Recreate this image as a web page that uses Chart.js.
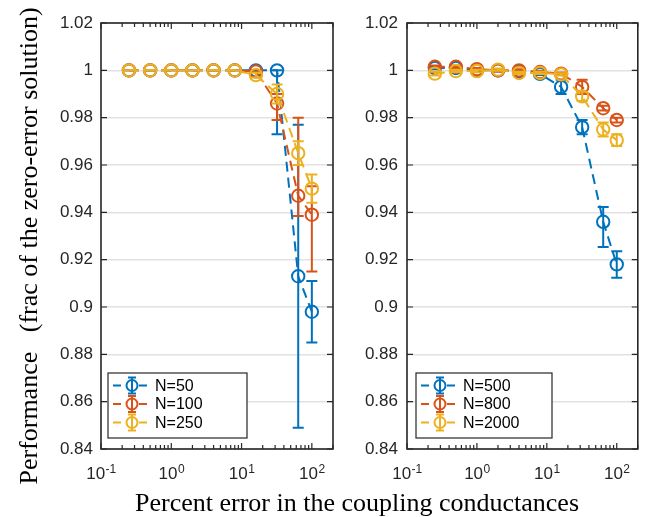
<!DOCTYPE html>
<html><head><meta charset="utf-8">
<script src="https://cdn.jsdelivr.net/npm/chart.js@4.4.1/dist/chart.umd.min.js"></script>
<style>
html,body{margin:0;padding:0;background:#fff;}
#wrap{position:relative;width:646px;height:517px;overflow:hidden;background:#fff;}
#c1{position:absolute;left:0;top:0;width:345px;height:517px;}
#c2{position:absolute;left:345px;top:0;width:301px;height:517px;}
.t{position:absolute;font-family:"Liberation Serif","Times New Roman",serif;font-size:26px;line-height:26px;color:#000;white-space:pre;text-align:center;}
</style></head>
<body><div id="wrap">
<canvas id="c1" width="345" height="517"></canvas>
<canvas id="c2" width="301" height="517"></canvas>
<div class="t" id="xt" style="left:57px;top:490px;width:600px;">Percent error in the coupling conductances</div>
<div class="t" id="yt" style="left:-221px;top:233px;width:500px;height:26px;transform:rotate(-90deg);">Performance   (frac of the zero-error solution)</div>
</div>
<script>
// ---------- data ----------
const xValues = [0.25, 0.5, 1, 2, 4, 8, 16, 32, 64, 100];
const yTicks = [0.84, 0.86, 0.88, 0.90, 0.92, 0.94, 0.96, 0.98, 1.00, 1.02];
const xTicks = [0.1, 1, 10, 100];
const xTickExp = ['-1', '0', '1', '2'];

const leftLabels = ['N=50', 'N=100', 'N=250'];
const n50   = [1, 1, 1, 1, 1, 1, 1, 1.000, 0.913, 0.898];
const n50Lo = [0, 0, 0, 0, 0, 0, 0, 0.027, 0.064, 0.013];
const n50Hi = [0, 0, 0, 0, 0, 0, 0, 0.000, 0.064, 0.013];
const n100   = [1, 1, 1, 1, 1, 1, 0.9995, 0.986, 0.947, 0.939];
const n100Lo = [0, 0, 0, 0, 0, 0, 0, 0.007, 0.0085, 0.024];
const n100Hi = [0, 0, 0, 0, 0, 0, 0, 0.004, 0.033, 0.012];
const n250   = [1, 1, 1, 1, 1, 1, 0.998, 0.990, 0.965, 0.950];
const n250Lo = [0, 0, 0, 0, 0, 0, 0.001, 0.004, 0.005, 0.006];
const n250Hi = [0, 0, 0, 0, 0, 0, 0.001, 0.004, 0.005, 0.006];

const rightLabels = ['N=500', 'N=800', 'N=2000'];
const n500   = [1.001, 1.001, 1.000, 1.000, 0.9995, 0.9985, 0.993, 0.976, 0.936, 0.918];
const n500Lo = [0.0005, 0.0005, 0.0005, 0.0005, 0.0005, 0.0005, 0.003, 0.003, 0.0107, 0.0056];
const n500Hi = [0.0005, 0.0005, 0.0005, 0.0005, 0.0005, 0.0005, 0.003, 0.003, 0.0063, 0.0056];
const n800   = [1.0015, 1.0015, 1.0005, 1.000, 1.000, 0.9993, 0.9986, 0.993, 0.984, 0.979];
const n800Lo = [0.0005, 0.0005, 0.0005, 0.0005, 0.0005, 0.0005, 0.0005, 0.003, 0.001, 0.001];
const n800Hi = [0.0005, 0.0005, 0.0005, 0.0005, 0.0005, 0.0005, 0.0005, 0.003, 0.001, 0.001];
const n2000   = [0.9986, 0.9997, 0.9997, 1.0003, 0.9989, 0.9989, 0.9983, 0.989, 0.975, 0.9705];
const n2000Lo = [0.0008, 0.0005, 0.0005, 0.0005, 0.0005, 0.0005, 0.0005, 0.002, 0.003, 0.0025];
const n2000Hi = [0.0008, 0.0005, 0.0005, 0.0005, 0.0005, 0.0005, 0.0005, 0.002, 0.003, 0.0025];

// ---------- styles ----------
const colors = ['#0072BD', '#D95319', '#EDB120'];
const AX = '#262626';
const SANS = '"Liberation Sans", Arial, Helvetica, sans-serif';

function mkDatasets(labels, series, los, his) {
  return labels.map((lab, k) => ({
    label: lab,
    data: xValues.map((x, i) => ({x: x, y: series[k][i]})),
    errLo: los[k], errHi: his[k],
    borderColor: colors[k],
    backgroundColor: colors[k],
    borderWidth: 2,
    borderDash: [10, 6],
    pointRadius: 6.2,
    pointBorderWidth: 2,
    pointBackgroundColor: 'rgba(0,0,0,0)',
    pointBorderColor: colors[k],
    pointStyle: 'circle',
    tension: 0,
    order: 3 - k
  }));
}

const matlabPlugin = {
  id: 'matlab',
  afterDatasetDraw(chart, args) {
    const ds = chart.data.datasets[args.index];
    const xs = chart.scales.x, ys = chart.scales.y;
    const ctx = chart.ctx, a = chart.chartArea;
    ctx.save();
    ctx.beginPath(); ctx.rect(a.left, a.top, a.right - a.left, a.bottom - a.top); ctx.clip();
    ctx.strokeStyle = ds.borderColor; ctx.lineWidth = 2; ctx.setLineDash([]);
    ds.data.forEach((p, i) => {
      const lo = ds.errLo[i], hi = ds.errHi[i];
      const x = xs.getPixelForValue(p.x);
      const y1 = ys.getPixelForValue(p.y - lo), y2 = ys.getPixelForValue(p.y + hi);
      ctx.beginPath();
      ctx.moveTo(x, y1); ctx.lineTo(x, y2);
      ctx.moveTo(x - 5.5, y1); ctx.lineTo(x + 5.5, y1);
      ctx.moveTo(x - 5.5, y2); ctx.lineTo(x + 5.5, y2);
      ctx.stroke();
    });
    ctx.restore();
  },
  afterDatasetsDraw(chart) {
    const ctx = chart.ctx, a = chart.chartArea;
    const xs = chart.scales.x, ys = chart.scales.y;
    ctx.save();
    ctx.strokeStyle = AX; ctx.lineWidth = 1.6; ctx.setLineDash([]);
    ctx.strokeRect(a.left, a.top, a.right - a.left, a.bottom - a.top);
    ctx.lineWidth = 1.2;
    ctx.beginPath();
    yTicks.forEach(v => {
      const y = ys.getPixelForValue(v);
      ctx.moveTo(a.left, y); ctx.lineTo(a.left + 6, y);
      ctx.moveTo(a.right, y); ctx.lineTo(a.right - 6, y);
    });
    for (let k = -1; k <= 2; k++) {
      for (let m = 1; m <= 9; m++) {
        const v = m * Math.pow(10, k);
        if (v > xs.max * 1.0001) continue;
        const x = xs.getPixelForValue(v);
        const L = m === 1 ? 6 : 4;
        ctx.moveTo(x, a.bottom); ctx.lineTo(x, a.bottom - L);
        ctx.moveTo(x, a.top); ctx.lineTo(x, a.top + L);
      }
    }
    ctx.stroke();
    // x tick labels with superscript exponents
    ctx.fillStyle = AX;
    ctx.textBaseline = 'alphabetic';
    xTicks.forEach((v, i) => {
      const x = xs.getPixelForValue(v);
      ctx.font = '17px ' + SANS;
      const wb = ctx.measureText('10').width;
      ctx.font = '12px ' + SANS;
      const we = ctx.measureText(xTickExp[i]).width;
      const s = x - (wb + we) / 2;
      ctx.font = '17px ' + SANS;
      ctx.textAlign = 'left';
      ctx.fillText('10', s, 479);
      ctx.font = '12px ' + SANS;
      ctx.fillText(xTickExp[i], s + wb + 0.5, 472.5);
    });
    ctx.restore();
  },
  afterDraw(chart) {
    const o = chart.options.plugins.matlab;
    const ctx = chart.ctx;
    ctx.save();
    ctx.fillStyle = '#fff';
    ctx.fillRect(o.lx, o.ly, o.lw, o.lh);
    ctx.strokeStyle = AX; ctx.lineWidth = 1.2;
    ctx.strokeRect(o.lx, o.ly, o.lw, o.lh);
    chart.data.datasets.forEach((ds, k) => {
      const y = o.ly + 12.5 + k * 18.5;
      ctx.strokeStyle = ds.borderColor;
      ctx.lineWidth = 2;
      ctx.setLineDash([8, 5]);
      ctx.beginPath(); ctx.moveTo(o.lx + 5, y); ctx.lineTo(o.lx + 40, y); ctx.stroke();
      ctx.setLineDash([]);
      const mx = o.lx + 24;
      ctx.fillStyle = '#fff';
      ctx.beginPath(); ctx.arc(mx, y, 5.5, 0, Math.PI * 2); ctx.fill();
      ctx.beginPath(); ctx.arc(mx, y, 5.5, 0, Math.PI * 2); ctx.stroke();
      ctx.beginPath();
      ctx.moveTo(mx, y - 8); ctx.lineTo(mx, y + 8);
      ctx.moveTo(mx - 4, y - 8); ctx.lineTo(mx + 4, y - 8);
      ctx.moveTo(mx - 4, y + 8); ctx.lineTo(mx + 4, y + 8);
      ctx.stroke();
      ctx.fillStyle = '#000';
      ctx.font = '16px ' + SANS;
      ctx.textAlign = 'left'; ctx.textBaseline = 'middle';
      ctx.fillText(ds.label, o.lx + 47, y + 1);
    });
    ctx.restore();
  }
};

function makeChart(id, labels, series, los, his, geo) {
  return new Chart(document.getElementById(id), {
    type: 'line',
    data: { datasets: mkDatasets(labels, series, los, his) },
    options: {
      responsive: false,
      animation: false,
      devicePixelRatio: 1,
      layout: { padding: { left: 0, right: geo.padRight, top: 23, bottom: 0 } },
      plugins: {
        legend: { display: false },
        tooltip: { enabled: false },
        matlab: { lx: geo.lx, ly: 373, lw: geo.lw, lh: 65 }
      },
      scales: {
        x: {
          type: 'logarithmic', min: 0.1, max: 200,
          afterBuildTicks: s => { s.ticks = xTicks.map(v => ({value: v})); },
          afterFit: s => { s.height = 68; },
          ticks: { display: false },
          grid: { display: false },
          border: { display: false }
        },
        y: {
          type: 'linear', min: 0.84, max: 1.02,
          afterBuildTicks: s => { s.ticks = yTicks.map(v => ({value: v})); },
          afterFit: s => { s.width = geo.yWidth; },
          ticks: {
            padding: geo.tickPad,
            color: AX,
            font: { family: SANS, size: 17 },
            callback: v => String(+Number(v).toFixed(2))
          },
          grid: { color: '#e2e2e2', lineWidth: 1.5, drawTicks: false, tickLength: 0 },
          border: { display: false }
        }
      }
    },
    plugins: [matlabPlugin]
  });
}

makeChart('c1', leftLabels, [n50, n100, n250], [n50Lo, n100Lo, n250Lo], [n50Hi, n100Hi, n250Hi],
  { yWidth: 101, padRight: 12, lx: 108, lw: 139, tickPad: 8 });
makeChart('c2', rightLabels, [n500, n800, n2000], [n500Lo, n800Lo, n2000Lo], [n500Hi, n800Hi, n2000Hi],
  { yWidth: 62, padRight: 7, lx: 71, lw: 136, tickPad: 9 });
</script>
</body></html>
